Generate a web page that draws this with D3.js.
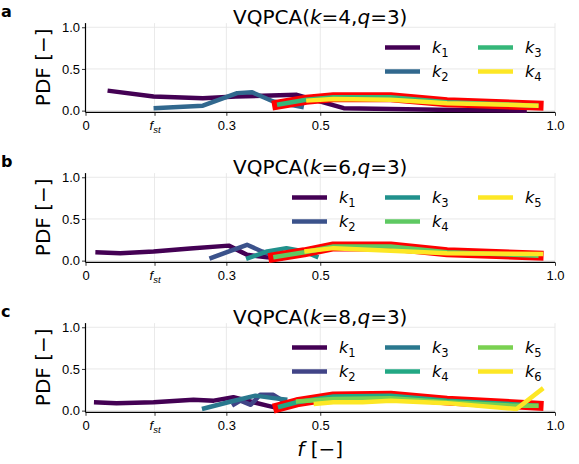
<!DOCTYPE html>
<html><head><meta charset="utf-8">
<script src="https://cdn.jsdelivr.net/npm/d3@7/dist/d3.min.js"></script>
<style>body{margin:0;background:#fff}svg{display:block;font-family:"DejaVu Sans",sans-serif}</style>
</head><body><svg id="c" width="579" height="464"></svg>
<script>
// ---- data ----
const xTickValues = [0, 0.147, 0.3, 0.5, 1.0];
const xTickLabels = ["0", "fst", "0.3", "0.5", "1.0"];
const yTickValues = [0, 0.5, 1.0];
const yTickLabels = ["0.0", "0.5", "1.0"];
const panelLetters = ["a", "b", "c"];
const panelK = [4, 6, 8];
const panelQ = [3, 3, 3];
const highlighted = [2, 3, 3]; // index of series drawn with red outline

// panel a (k=4)
const a_k1 = [[0.047,0.24],[0.145,0.17],[0.25,0.15],[0.32,0.17],[0.45,0.19],[0.55,0.03],[0.75,0.01],[0.94,0.0]];
const a_k2 = [[0.145,0.03],[0.25,0.06],[0.323,0.21],[0.355,0.22],[0.40,0.11],[0.465,0.04]];
const a_k3 = [[0.408,0.07],[0.47,0.13],[0.528,0.16],[0.65,0.16],[0.77,0.10],[0.965,0.06]];
const a_k4 = [[0.47,0.12],[0.528,0.14],[0.65,0.13],[0.77,0.09],[0.965,0.06]];
// panel b (k=6)
const b_k1 = [[0.021,0.10],[0.074,0.09],[0.145,0.11],[0.223,0.145],[0.305,0.18],[0.344,0.07],[0.387,0.04],[0.42,0.03]];
const b_k2 = [[0.264,0.025],[0.30,0.10],[0.344,0.19],[0.376,0.11],[0.40,0.06]];
const b_k3 = [[0.342,0.02],[0.387,0.11],[0.428,0.15],[0.466,0.11],[0.496,0.04]];
const b_k4 = [[0.40,0.04],[0.466,0.10],[0.528,0.17],[0.65,0.17],[0.77,0.10],[0.965,0.06]];
const b_k5 = [[0.466,0.11],[0.528,0.15],[0.65,0.12],[0.77,0.09],[0.975,0.08]];
// panel c (k=8)
const c_k1 = [[0.018,0.10],[0.066,0.09],[0.145,0.10],[0.23,0.13],[0.273,0.12],[0.315,0.16],[0.351,0.11],[0.387,0.06],[0.41,0.03]];
const c_k2 = [[0.312,0.06],[0.33,0.12],[0.352,0.07],[0.372,0.19],[0.40,0.19],[0.42,0.12]];
const c_k3 = [[0.248,0.02],[0.31,0.11],[0.362,0.18],[0.40,0.15],[0.43,0.13]];
const c_k4 = [[0.41,0.04],[0.45,0.10],[0.528,0.17],[0.65,0.18],[0.77,0.12],[0.965,0.06]];
const c_k5 = [[0.448,0.11],[0.528,0.14],[0.65,0.15],[0.77,0.10],[0.91,0.06],[0.965,0.06]];
const c_k6 = [[0.486,0.08],[0.528,0.10],[0.59,0.10],[0.65,0.12],[0.77,0.09],[0.918,0.02],[0.975,0.27]];

const panelSeries = [[a_k1,a_k2,a_k3,a_k4],[b_k1,b_k2,b_k3,b_k4,b_k5],[c_k1,c_k2,c_k3,c_k4,c_k5,c_k6]];
const panelColors = [
  ["#440154","#31688e","#35b779","#fde725"],
  ["#440154","#3b528b","#21918c","#5ec962","#fde725"],
  ["#440154","#414487","#2a788e","#22a884","#7ad151","#fde725"]
];

// ---- drawing ----
const svg = d3.select("#c");
const x = d3.scaleLinear().domain([0, 1]).range([85.5, 555]);

panelSeries.forEach((series, p) => {
  const off = p * 150;
  const y = d3.scaleLinear().domain([-0.02, 1.05]).range([112.3 + off, 23.1 + off]);
  const g = svg.append("g");

  // grid
  g.selectAll(".vg").data(xTickValues.slice(1)).enter().append("line")
    .attr("x1", d => x(d)).attr("x2", d => x(d)).attr("y1", y(1.05)).attr("y2", y(-0.02))
    .attr("stroke", "#e3e3e3").attr("stroke-width", 0.8);
  g.selectAll(".hg").data(yTickValues).enter().append("line")
    .attr("x1", x(0)).attr("x2", x(1)).attr("y1", d => y(d)).attr("y2", d => y(d))
    .attr("stroke", "#e3e3e3").attr("stroke-width", 0.8);

  // axes
  const xAxis = d3.axisBottom(x).tickValues(xTickValues).tickSize(3.5).tickPadding(3).tickFormat(() => "");
  const ax = g.append("g").attr("transform", `translate(0,${y(-0.02)})`).call(xAxis);
  ax.select(".domain").attr("stroke-width", 1.2).attr("d", `M${x(0)},0H${x(1)}`);
  ax.selectAll(".tick line").attr("stroke-width", 0.8);
  ax.selectAll(".tick").each(function(d, i) {
    const t = d3.select(this).append("text").attr("fill", "#000").attr("y", 18)
      .attr("text-anchor", "middle").style("font-size", "13px");
    if (xTickLabels[i] === "fst") {
      t.append("tspan").attr("font-style", "italic").text("f");
      t.append("tspan").attr("font-style", "italic").attr("dy", 3).style("font-size", "9.5px").text("st");
    } else t.text(xTickLabels[i]);
  });

  const yAxis = d3.axisLeft(y).tickValues(yTickValues).tickSize(3.5).tickPadding(2)
    .tickFormat((d, i) => yTickLabels[i]);
  const ay = g.append("g").attr("transform", `translate(${x(0)},0)`).call(yAxis);
  ay.select(".domain").attr("stroke-width", 1.2).attr("d", `M0,${y(-0.02)}V${y(1.05)}`);
  ay.selectAll(".tick line").attr("stroke-width", 0.8);
  ay.selectAll(".tick text").style("font-size", "13px").attr("fill", "#000");

  // y label
  g.append("text").attr("transform", `translate(50,${y(0.52)}) rotate(-90)`)
    .attr("text-anchor", "middle").style("font-size", "20px").text("PDF [−]");

  // title
  const tt = g.append("text").attr("x", x(0.5)).attr("y", 24 + off).attr("text-anchor", "middle").style("font-size", "20px");
  tt.append("tspan").text("VQPCA(");
  tt.append("tspan").attr("font-style", "italic").text("k");
  tt.append("tspan").text("=" + panelK[p] + ",");
  tt.append("tspan").attr("font-style", "italic").text("q");
  tt.append("tspan").text("=" + panelQ[p] + ")");

  // panel letter
  g.append("text").attr("x", 1).attr("y", 17 + off).style("font-size", "16px").attr("font-weight", "bold").text(panelLetters[p]);

  // lines
  const line = d3.line().x(d => x(d[0])).y(d => y(d[1]));
  series.forEach((s, i) => {
    if (i === highlighted[p]) {
      g.append("path").attr("d", line(s)).attr("fill", "none").attr("stroke", "#ff0000")
        .attr("stroke-width", 10).attr("stroke-linejoin", "round").attr("stroke-linecap", "square");
    }
    g.append("path").attr("d", line(s)).attr("fill", "none").attr("stroke", panelColors[p][i])
      .attr("stroke-width", 4.5).attr("stroke-linejoin", "round").attr("stroke-linecap", "butt");
  });

  // legend
  const n = series.length;
  const ncol = n <= 4 ? 2 : 3;
  const colX = ncol === 2 ? [385, 478] : [292, 385, 478];
  series.forEach((s, i) => {
    const c = Math.floor(i / 2), r = i % 2;
    const lx = colX[c], ly = 47.5 + off + r * 24;
    g.append("line").attr("x1", lx).attr("x2", lx + 35).attr("y1", ly).attr("y2", ly)
      .attr("stroke", panelColors[p][i]).attr("stroke-width", 4.5);
    const t = g.append("text").attr("x", lx + 47).attr("y", ly + 5).style("font-size", "16px");
    t.append("tspan").attr("font-style", "italic").text("k");
    t.append("tspan").attr("dy", 4).style("font-size", "11.5px").text(String(i + 1));
  });
});

// x label
const xl = svg.append("text").attr("x", x(0.5)).attr("y", 456).attr("text-anchor", "middle").style("font-size", "20px");
xl.append("tspan").attr("font-style", "italic").text("f");
xl.append("tspan").text(" [−]");
</script></body></html>
